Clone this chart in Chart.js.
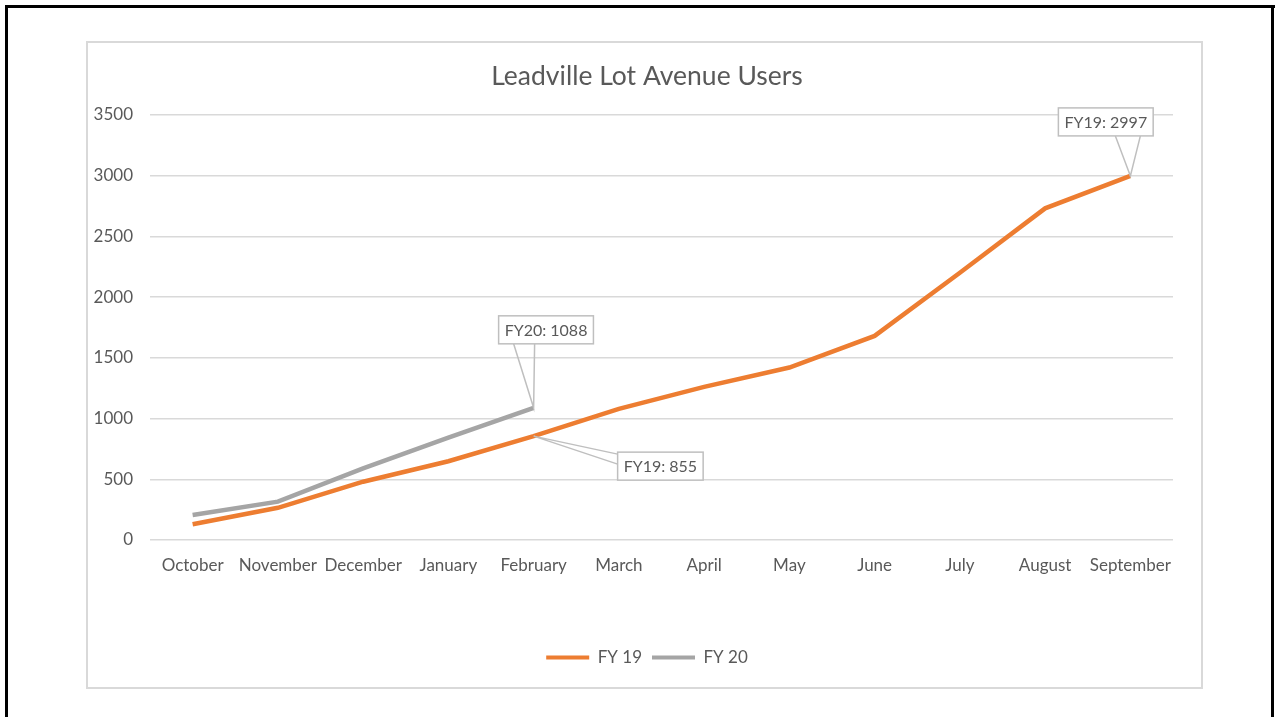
<!DOCTYPE html>
<html>
<head>
<meta charset="utf-8">
<script src="https://cdn.jsdelivr.net/npm/chart.js@4.4.1/dist/chart.umd.min.js"></script>
<style>
  html, body { margin: 0; padding: 0; background: #fff; }
  #wrap { width: 1276px; height: 717px; position: relative; }
</style>
</head>
<body>
<div id="wrap"><canvas id="usersChart" width="1276" height="717"></canvas></div>
<script>
// data
const months = ['October', 'November', 'December', 'January', 'February', 'March',
                'April', 'May', 'June', 'July', 'August', 'September'];
const fy19 = [130, 265, 480, 648, 855, 1080, 1260, 1420, 1680, 2200, 2730, 2997];
const fy20 = [205, 316, 590, 843, 1088];
const yTicks = [0, 500, 1000, 1500, 2000, 2500, 3000, 3500];

// callouts: which series / which month, and the prefix shown
const calloutSeries = [1, 0, 0];
const calloutIndex = [4, 4, 11];
const calloutPrefix = ['FY20', 'FY19', 'FY19'];

const textGrey = '#595959';
const fontFam = 'Lato, "Open Sans", sans-serif';

// slide frame + plot frame
const framePlugin = {
    id: 'frame',
    beforeDraw(chart) {
        const c = chart.ctx;
        c.save();
        c.fillStyle = '#fff';
        c.fillRect(0, 0, chart.width, chart.height);
        c.strokeStyle = '#d9d9d9';
        c.lineWidth = 2;
        c.strokeRect(87, 42, 1115, 646);
        c.fillStyle = '#000';
        c.fillRect(5, 5, 1270, 3);
        c.fillRect(5, 5, 3, 712);
        c.fillRect(1271, 5, 3, 712);
        c.restore();
    }
};

// data callouts with pointer wedges
const calloutPlugin = {
    id: 'callouts',
    afterDatasetsDraw(chart) {
        const c = chart.ctx;
        c.save();
        c.font = '16px ' + fontFam;
        c.textAlign = 'center';
        c.textBaseline = 'middle';
        for (let i = 0; i < calloutSeries.length; i++) {
            const s = calloutSeries[i];
            const idx = calloutIndex[i];
            const pt = chart.getDatasetMeta(s).data[idx];
            const val = chart.data.datasets[s].data[idx];
            const txt = calloutPrefix[i] + ': ' + val;
            const w = c.measureText(txt).width + 12;
            const h = 28;
            let bx, by, p1, p2;
            if (i === 0) {
                bx = pt.x - 35; by = pt.y - 92;
                p1 = [pt.x - 20, by + h]; p2 = [pt.x + 1, by + h];
            } else if (i === 1) {
                bx = pt.x + 84; by = pt.y + 16;
                p1 = [bx, by + 2]; p2 = [bx, by + 12];
            } else {
                bx = pt.x - 72; by = pt.y - 68;
                p1 = [pt.x - 15, by + h]; p2 = [pt.x + 10, by + h];
            }
            c.fillStyle = '#fff';
            c.strokeStyle = '#bfbfbf';
            c.lineWidth = 1.5;
            c.beginPath();
            c.moveTo(p1[0], p1[1]);
            c.lineTo(pt.x, pt.y);
            c.lineTo(p2[0], p2[1]);
            c.stroke();
            c.fillRect(bx, by, w, h);
            c.strokeRect(bx, by, w, h);
            c.fillStyle = textGrey;
            c.fillText(txt, bx + w / 2, by + h / 2 + 1);
        }
        c.restore();
    }
};

new Chart(document.getElementById('usersChart'), {
    type: 'line',
    data: {
        labels: months,
        datasets: [{
            label: 'FY 19',
            data: fy19,
            borderColor: '#ED7D31',
            backgroundColor: '#ED7D31',
            borderWidth: 4.5,
            pointRadius: 0,
            tension: 0
        }, {
            label: 'FY 20',
            data: fy20,
            borderColor: '#A5A5A5',
            backgroundColor: '#A5A5A5',
            borderWidth: 4.5,
            pointRadius: 0,
            tension: 0
        }]
    },
    options: {
        responsive: false,
        animation: false,
        devicePixelRatio: 1,
        layout: { padding: { top: 42, bottom: 41, left: 121, right: 103 } },
        plugins: {
            title: {
                display: true,
                text: 'Leadville Lot Avenue Users',
                color: textGrey,
                font: { family: fontFam, size: 26.5, weight: 'normal' },
                padding: { top: 19, bottom: 22 }
            },
            legend: {
                position: 'bottom',
                labels: {
                    color: textGrey,
                    font: { family: fontFam, size: 17 },
                    boxWidth: 43,
                    boxHeight: 4,
                    padding: 10,
                    generateLabels(chart) {
                        return Chart.defaults.plugins.legend.labels.generateLabels(chart)
                            .map(l => Object.assign(l, { lineWidth: 0 }));
                    }
                }
            },
            tooltip: { enabled: false }
        },
        scales: {
            x: {
                offset: true,
                grid: { display: false },
                border: { display: false },
                ticks: {
                    color: textGrey,
                    font: { family: fontFam, size: 17 },
                    padding: 7,
                    maxRotation: 0,
                    autoSkip: false
                },
                afterFit(s) { s.height = 99; }
            },
            y: {
                min: 0,
                max: 3500,
                grid: { color: '#d9d9d9', lineWidth: 1.5, drawTicks: false },
                border: { display: false },
                afterBuildTicks(s) { s.ticks = yTicks.map(v => ({ value: v })); },
                ticks: {
                    color: textGrey,
                    font: { family: fontFam, size: 17 },
                    padding: 17,
                    callback: v => String(v)
                },
                afterFit(s) {
                    s.width = 29;
                    // labels hang out to the left of the narrow axis box
                    s._computeLabelArea = () => undefined;
                }
            }
        }
    },
    plugins: [framePlugin, calloutPlugin]
});
</script>
</body>
</html>
